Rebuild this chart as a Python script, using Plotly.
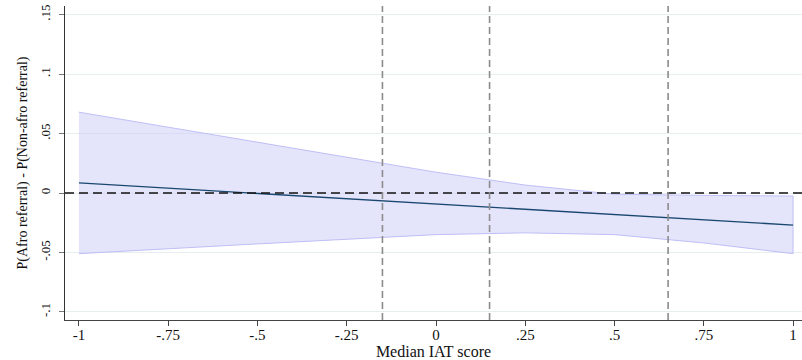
import plotly.graph_objects as go

# Median IAT score grid and estimated difference in referral probability
iat = [-1.0, -0.75, -0.5, -0.25, 0.0, 0.25, 0.5, 0.75, 1.0]
effect = [0.0085, 0.0040, -0.0005, -0.0050, -0.0095, -0.0140, -0.0185, -0.0230, -0.0270]
ci_upper = [0.068, 0.0555, 0.0428, 0.0300, 0.0175, 0.0067, -0.0010, -0.0020, -0.0025]
ci_lower = [-0.051, -0.0469, -0.0428, -0.0387, -0.0350, -0.0335, -0.0350, -0.0420, -0.0510]

# Reference cut-offs on the IAT scale
cutoffs = [-0.15, 0.15, 0.65]

x_ticks = [-1, -0.75, -0.5, -0.25, 0, 0.25, 0.5, 0.75, 1]
x_tick_text = ["-1", "-.75", "-.5", "-.25", "0", ".25", ".5", ".75", "1"]
y_ticks = [-0.1, -0.05, 0, 0.05, 0.1, 0.15]
y_tick_text = ["-.1", "-.05", "0", ".05", ".1", ".15"]

FONT = "Liberation Serif"

fig = go.Figure()

# confidence band as a closed polygon
fig.add_trace(go.Scatter(
    x=iat + iat[::-1],
    y=ci_upper + ci_lower[::-1],
    fill="toself",
    fillcolor="rgba(205,205,248,0.55)",
    line=dict(color="rgba(185,185,245,0.9)", width=1),
    mode="lines",
    hoverinfo="skip",
    showlegend=False,
))

# point estimate
fig.add_trace(go.Scatter(
    x=iat, y=effect,
    mode="lines",
    line=dict(color="#1a476f", width=1.4),
    showlegend=False,
))

# zero reference line
fig.add_shape(type="line", xref="paper", x0=0, x1=1, yref="y", y0=0, y1=0,
              line=dict(color="#111111", width=1.6, dash="9px,5px"), layer="above")

# cut-off lines
for c in cutoffs:
    fig.add_shape(type="line", xref="x", x0=c, x1=c, yref="paper", y0=0, y1=1,
                  line=dict(color="#8c8c8c", width=1.6, dash="7px,4px"), layer="above")

fig.update_layout(
    width=802, height=360,
    margin=dict(l=65, r=0, t=6, b=40),
    paper_bgcolor="white",
    plot_bgcolor="white",
    font=dict(family=FONT, color="#111111"),
    xaxis=dict(
        range=[-1.039, 1.025],
        tickvals=x_ticks, ticktext=x_tick_text,
        tickfont=dict(family=FONT, size=15),
        ticks="outside", ticklen=5, tickcolor="#444444", tickwidth=1.2,
        ticklabelstandoff=-4,
        showline=True, linecolor="#444444", linewidth=1.2,
        showgrid=False, zeroline=False,
        title=dict(text="Median IAT score", font=dict(family=FONT, size=16), standoff=0),
    ),
    yaxis=dict(
        range=[-0.1068, 0.1573],
        tickvals=y_ticks, ticktext=y_tick_text,
        tickangle=-90,
        tickfont=dict(family=FONT, size=13),
        ticks="outside", ticklen=5, tickcolor="#777777", tickwidth=1.2,
        ticklabelstandoff=4,
        showline=True, linecolor="#333333", linewidth=1.2,
        showgrid=True, gridcolor="#e6eef0", gridwidth=1,
        zeroline=False,
        title=dict(text="P(Afro referral) - P(Non-afro referral)",
                   font=dict(family=FONT, size=14), standoff=6),
    ),
)

fig.write_html("out.html")
